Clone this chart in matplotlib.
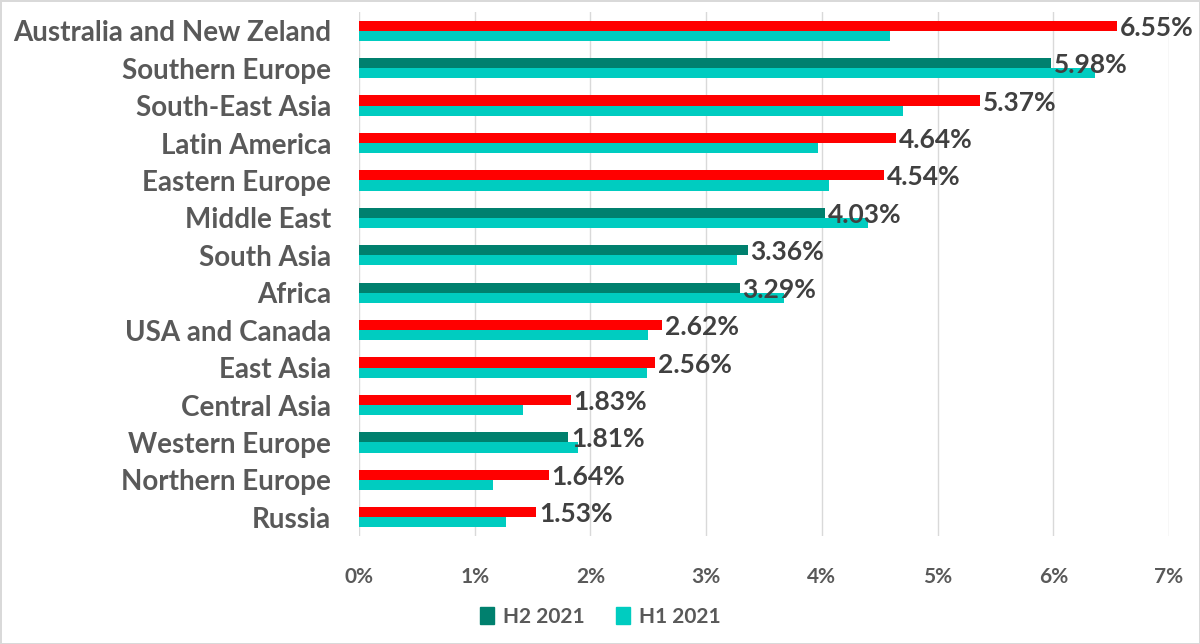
import matplotlib

matplotlib.use("Agg")

import matplotlib.pyplot as plt
import numpy as np
from matplotlib.patches import Patch
from matplotlib.ticker import FuncFormatter

regions = [
    "Australia and New Zeland", "Southern Europe", "South-East Asia",
    "Latin America", "Eastern Europe", "Middle East", "South Asia", "Africa",
    "USA and Canada", "East Asia", "Central Asia", "Western Europe",
    "Northern Europe", "Russia",
]
h2_2021 = [6.55, 5.98, 5.37, 4.64, 4.54, 4.03, 3.36, 3.29, 2.62, 2.56, 1.83, 1.81, 1.64, 1.53]
h1_2021 = [4.59, 6.36, 4.70, 3.97, 4.06, 4.40, 3.27, 3.67, 2.50, 2.49, 1.42, 1.89, 1.16, 1.27]
# True where the H2 bar is highlighted in red
h2_up = [True, False, True, True, True, False, False, False, True, True, True, False, True, True]
x_ticks = [0, 1, 2, 3, 4, 5, 6, 7]

RED = "#FF0000"
DARK = "#00806E"
CYAN = "#00CCC0"
TEXT = "#595959"
LABEL = "#404040"

plt.rcParams["font.family"] = ["Lato", "DejaVu Sans"]
plt.rcParams["font.weight"] = "bold"

fig = plt.figure(figsize=(12, 6.44), dpi=100)
fig.patch.set_edgecolor("#D9D9D9")
fig.patch.set_linewidth(2)
ax = fig.add_axes([359 / 1200, 1 - 536 / 644, (1169 - 359) / 1200, (536 - 12) / 644])

y = np.arange(len(regions))
h = 0.27
h2_colors = [RED if up else DARK for up in h2_up]
ax.barh(y - h / 2, h2_2021, height=h, color=h2_colors, zorder=3)
ax.barh(y + h / 2, h1_2021, height=h, color=CYAN, zorder=2)

for yi, v in zip(y, h2_2021):
    ax.annotate(f"{v:.2f}%", xy=(v, yi - 0.08), xytext=(2, 0), textcoords="offset points",
                va="center", ha="left", fontsize=19, fontweight="bold", color=LABEL,
                zorder=4)

ax.set_xlim(0, 7)
ax.set_ylim(len(regions) - 0.5, -0.5)
ax.set_xticks(x_ticks)
ax.xaxis.set_major_formatter(FuncFormatter(lambda v, _: f"{v:.0f}%"))
ax.set_yticks(y)
ax.set_yticklabels(regions)
ax.tick_params(axis="y", length=0, pad=20, labelsize=20, labelcolor=TEXT)
ax.tick_params(axis="x", length=0, pad=22, labelsize=15, labelcolor=TEXT)
ax.grid(axis="x", color="#D9D9D9", linewidth=1, zorder=0)
for side in ("top", "right", "bottom", "left"):
    ax.spines[side].set_visible(False)

handles = [Patch(color=DARK, label="H2 2021"), Patch(color=CYAN, label="H1 2021")]
fig.legend(handles=handles, loc="center", bbox_to_anchor=(0.5, 1 - 617 / 644), ncol=2,
           frameon=False, fontsize=15, labelcolor=TEXT, handlelength=0.7, handleheight=0.9,
           handletextpad=0.4, columnspacing=1.5)

fig.savefig("out.png", dpi=100, edgecolor=fig.get_edgecolor())
